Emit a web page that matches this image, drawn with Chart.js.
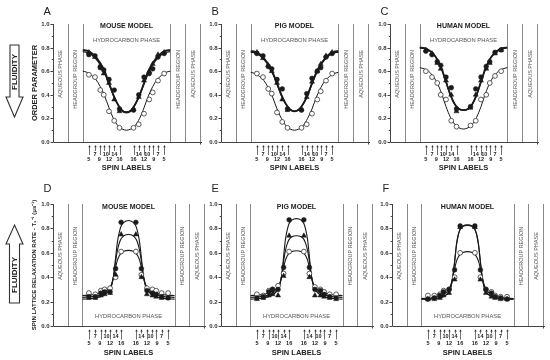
<!DOCTYPE html>
<html><head><meta charset="utf-8">
<script src="https://cdn.jsdelivr.net/npm/chart.js@4.4.1/dist/chart.umd.min.js"></script>
<style>
html,body{margin:0;padding:0;background:#fff;}
#wrap{position:relative;width:550px;height:360px;overflow:hidden;background:#fff;}
#wrap canvas{position:absolute;left:0;top:0;}
</style></head><body>
<div id="wrap">
<canvas id="cA" width="550" height="360"></canvas>
<canvas id="cB" width="550" height="360"></canvas>
<canvas id="cC" width="550" height="360"></canvas>
<canvas id="cD" width="550" height="360"></canvas>
<canvas id="cE" width="550" height="360"></canvas>
<canvas id="cF" width="550" height="360"></canvas>
</div>
<script>
// ---------------- DATA ----------------
const spinLabels = [5,7,9,10,12,14,16,16,14,12,10,9,7,5];
const spinPos    = [-43,-36,-30,-26,-20,-14,-8,8,14,20,26,30,36,43];
const yTicks = [0,0.2,0.4,0.6,0.8,1.0];
const yTickLabels = ['0.0','0.2','0.4','0.6','0.8','1.0'];
const models = ['MOUSE MODEL','PIG MODEL','HUMAN MODEL'];
const letters = ['A','B','C','D','E','F'];
const regionNames = ['AQUEOUS PHASE','HEADGROUP REGION','HYDROCARBON PHASE'];
const yTitleTop = 'ORDER PARAMETER';
const yTitleBottom = 'SPIN LATTICE RELAXATION RATE - T\u2081\u207B\u00B9 (\u03BCs\u207B\u00B9)';
const xTitle = 'SPIN LABELS';
const fluidityText = 'FLUIDITY';
// region boundaries: [axis start, aqueous|headgroup, headgroup|hydrocarbon, hydrocarbon|headgroup, headgroup|aqueous, end]
const topBounds = [-84,-67,-50,50,67,84];
const botBounds = [-82,-66,-50,50,66,82];

// fitted curves, order parameter (top row)
const topCurveX = [-50,-45,-40,-35,-30,-25,-20,-15,-10,-5,0,5,10,15,20,25,30,35,40,45,50];
const mouseOrderFilledFit = [0.78,0.775,0.755,0.72,0.67,0.60,0.50,0.40,0.32,0.265,0.25,0.265,0.32,0.40,0.50,0.60,0.67,0.72,0.755,0.775,0.78];
const mouseOrderTriFit    = [0.765,0.76,0.74,0.705,0.655,0.585,0.49,0.395,0.32,0.27,0.255,0.27,0.32,0.395,0.49,0.585,0.655,0.705,0.74,0.76,0.765];
const mouseOrderOpenFit   = [0.60,0.59,0.565,0.53,0.47,0.39,0.29,0.20,0.14,0.11,0.10,0.11,0.14,0.20,0.29,0.39,0.47,0.53,0.565,0.59,0.60];
const pigOrderFilledFit   = [0.77,0.765,0.745,0.71,0.66,0.59,0.50,0.40,0.325,0.275,0.26,0.275,0.325,0.40,0.50,0.59,0.66,0.71,0.745,0.765,0.77];
const pigOrderTriFit      = [0.76,0.755,0.735,0.70,0.65,0.58,0.49,0.395,0.32,0.275,0.262,0.275,0.32,0.395,0.49,0.58,0.65,0.70,0.735,0.755,0.76];
const pigOrderOpenFit     = [0.59,0.58,0.555,0.52,0.46,0.38,0.28,0.20,0.14,0.11,0.10,0.11,0.14,0.20,0.28,0.38,0.46,0.52,0.555,0.58,0.59];
const humanOrderFilledFit = [0.80,0.795,0.78,0.75,0.70,0.62,0.51,0.40,0.32,0.28,0.27,0.28,0.32,0.40,0.51,0.62,0.70,0.75,0.78,0.795,0.80];
const humanOrderTriFit    = [0.80,0.795,0.78,0.75,0.70,0.62,0.51,0.40,0.32,0.28,0.27,0.28,0.32,0.40,0.51,0.62,0.70,0.75,0.78,0.795,0.80];
const humanOrderOpenFit   = [0.63,0.62,0.60,0.56,0.50,0.41,0.30,0.21,0.15,0.12,0.11,0.12,0.15,0.21,0.30,0.41,0.50,0.56,0.60,0.62,0.63];

// measured points, order parameter (at spinPos)
const mouseOrderFilled = [0.74,0.73,0.63,0.61,0.53,0.44,0.28,0.27,0.40,0.55,0.58,0.62,0.72,0.75];
const mouseOrderTri    = [0.76,0.72,0.65,0.58,0.50,0.36,0.26,0.28,0.38,0.52,0.60,0.66,0.74,0.76];
const mouseOrderOpen   = [0.57,0.55,0.44,0.40,0.26,0.18,0.12,0.12,0.15,0.24,0.36,0.42,0.52,0.58];
const pigOrderFilled   = [0.75,0.73,0.64,0.62,0.53,0.45,0.28,0.27,0.41,0.54,0.60,0.63,0.72,0.75];
const pigOrderTri      = [0.76,0.71,0.65,0.60,0.50,0.36,0.27,0.28,0.38,0.51,0.60,0.66,0.73,0.76];
const pigOrderOpen     = [0.58,0.55,0.45,0.41,0.25,0.17,0.12,0.12,0.15,0.24,0.36,0.43,0.52,0.58];
const humanOrderFilled = [0.77,0.74,0.68,0.65,0.55,0.46,0.28,0.30,0.45,0.55,0.64,0.68,0.76,0.78];
const humanOrderTri    = [0.78,0.75,0.67,0.62,0.52,0.40,0.26,0.29,0.40,0.52,0.62,0.67,0.75,0.78];
const humanOrderOpen   = [0.60,0.55,0.50,0.40,0.36,0.18,0.13,0.14,0.18,0.36,0.40,0.50,0.56,0.60];

// fitted curves, relaxation rate (bottom row)
const botCurveX = [-50,-40,-30,-25,-20,-18,-16,-14,-12,-10,-8,-5,0,5,8,10,12,14,16,18,20,25,30,40,50];
const mouseRateFilledFit = [0.22,0.225,0.24,0.26,0.30,0.34,0.42,0.56,0.69,0.77,0.82,0.85,0.865,0.85,0.82,0.77,0.69,0.56,0.42,0.34,0.30,0.26,0.24,0.225,0.22];
const mouseRateTriFit    = [0.235,0.24,0.255,0.275,0.31,0.35,0.42,0.53,0.62,0.68,0.715,0.74,0.75,0.74,0.715,0.68,0.62,0.53,0.42,0.35,0.31,0.275,0.255,0.24,0.235];
const mouseRateOpenFit   = [0.25,0.255,0.27,0.29,0.32,0.35,0.41,0.48,0.54,0.575,0.597,0.613,0.62,0.613,0.597,0.575,0.54,0.48,0.41,0.35,0.32,0.29,0.27,0.255,0.25];
const pigRateFilledFit   = [0.22,0.225,0.24,0.26,0.30,0.34,0.42,0.57,0.71,0.79,0.84,0.868,0.88,0.868,0.84,0.79,0.71,0.57,0.42,0.34,0.30,0.26,0.24,0.225,0.22];
const pigRateTriFit      = [0.235,0.24,0.255,0.275,0.31,0.35,0.42,0.53,0.62,0.675,0.71,0.732,0.74,0.732,0.71,0.675,0.62,0.53,0.42,0.35,0.31,0.275,0.255,0.24,0.235];
const pigRateOpenFit     = [0.25,0.255,0.27,0.29,0.32,0.35,0.41,0.48,0.54,0.575,0.595,0.61,0.617,0.61,0.595,0.575,0.54,0.48,0.41,0.35,0.32,0.29,0.27,0.255,0.25];
const humanRateFilledFit = [0.22,0.222,0.23,0.245,0.28,0.32,0.40,0.53,0.67,0.75,0.795,0.82,0.83,0.82,0.795,0.75,0.67,0.53,0.40,0.32,0.28,0.245,0.23,0.222,0.22];
const humanRateTriFit    = [0.22,0.222,0.23,0.245,0.28,0.32,0.40,0.52,0.66,0.745,0.79,0.815,0.825,0.815,0.79,0.745,0.66,0.52,0.40,0.32,0.28,0.245,0.23,0.222,0.22];
const humanRateOpenFit   = [0.225,0.23,0.245,0.265,0.30,0.34,0.40,0.47,0.53,0.565,0.587,0.603,0.61,0.603,0.587,0.565,0.53,0.47,0.40,0.34,0.30,0.265,0.245,0.23,0.225];

// measured points, relaxation rate (at spinPos)
const mouseRateFilled = [0.24,0.24,0.27,0.28,0.28,0.47,0.85,0.85,0.47,0.29,0.27,0.26,0.24,0.23];
const mouseRateTri    = [0.23,0.23,0.25,0.26,0.27,0.42,0.75,0.75,0.40,0.26,0.25,0.24,0.23,0.23];
const mouseRateOpen   = [0.27,0.26,0.29,0.30,0.31,0.40,0.61,0.61,0.42,0.31,0.30,0.29,0.27,0.27];
const pigRateFilled   = [0.23,0.24,0.28,0.30,0.30,0.48,0.87,0.87,0.48,0.30,0.29,0.26,0.24,0.23];
const pigRateTri      = [0.22,0.23,0.25,0.26,0.25,0.41,0.74,0.74,0.40,0.25,0.25,0.24,0.23,0.22];
const pigRateOpen     = [0.26,0.25,0.29,0.30,0.33,0.43,0.61,0.61,0.43,0.32,0.30,0.28,0.26,0.26];
const humanRateFilled = [0.22,0.23,0.25,0.28,0.30,0.46,0.82,0.82,0.46,0.30,0.27,0.24,0.23,0.22];
const humanRateTri    = [0.22,0.22,0.23,0.25,0.27,0.38,0.81,0.81,0.38,0.27,0.24,0.23,0.22,0.22];
const humanRateOpen   = [0.25,0.25,0.26,0.29,0.30,0.40,0.60,0.60,0.40,0.30,0.28,0.25,0.24,0.24];

// ---------------- LAYOUT ----------------
const FONT = '"Liberation Sans", Arial, sans-serif';
const panels = [
  {letter:0, model:0, row:'top', box:[53,200,24,142], bounds:topBounds, cx:topCurveX, fits:[mouseOrderFilledFit,mouseOrderTriFit,mouseOrderOpenFit], pts:[mouseOrderFilled,mouseOrderTri,mouseOrderOpen], ytitle:yTitleTop, arrow:'down'},
  {letter:1, model:1, row:'top', box:[221,368,24,142], bounds:topBounds, cx:topCurveX, fits:[pigOrderFilledFit,pigOrderTriFit,pigOrderOpenFit], pts:[pigOrderFilled,pigOrderTri,pigOrderOpen]},
  {letter:2, model:2, row:'top', box:[390,537,24,142], bounds:topBounds, cx:topCurveX, fits:[humanOrderFilledFit,humanOrderTriFit,humanOrderOpenFit], pts:[humanOrderFilled,humanOrderTri,humanOrderOpen]},
  {letter:3, model:0, row:'bot', box:[53,204,204,326], bounds:botBounds, cx:botCurveX, fits:[mouseRateFilledFit,mouseRateTriFit,mouseRateOpenFit], pts:[mouseRateFilled,mouseRateTri,mouseRateOpen], ytitle:yTitleBottom, arrow:'up'},
  {letter:4, model:1, row:'bot', box:[221,372,204,326], bounds:botBounds, cx:botCurveX, fits:[pigRateFilledFit,pigRateTriFit,pigRateOpenFit], pts:[pigRateFilled,pigRateTri,pigRateOpen]},
  {letter:5, model:2, row:'bot', box:[392,543,204,326], bounds:botBounds, cx:botCurveX, fits:[humanRateFilledFit,humanRateTriFit,humanRateOpenFit], pts:[humanRateFilled,humanRateTri,humanRateOpen]},
];
const rowStyle = {
  top:{modelY:28, hydroY:42, regionMode:'top', regionY:50, arrowTop:3, shortEnd:9, longEnd:13, upY:14, lowY:18.5, xTitleY:28, letterY:-9, fitWidths:[1.8,1.3,1]},
  bot:{modelY:209, hydroY:318, regionMode:'center', regionY:256, arrowTop:3.3, shortEnd:7.5, longEnd:13.5, upY:12, lowY:18.5, xTitleY:29, letterY:-12, fitWidths:[1.1,1.1,1.1]}
};
const INK = '#1a1a1a', GREY = '#8a8a8a', LABEL = '#555';

function makeChart(canvasId, p){
  const rs = rowStyle[p.row];
  const [L,R,T,B] = p.box;
  const b = p.bounds;
  const toXY = (xs, ys) => xs.map((x,i)=>({x:x, y:ys[i]}));
  const markerStyles = [
    {pointStyle:'circle', pointRadius:2.4, backgroundColor:INK, borderColor:INK, borderWidth:0.5},
    {pointStyle:'triangle', pointRadius:2.9, backgroundColor:INK, borderColor:INK, borderWidth:0.5},
    {pointStyle:'circle', pointRadius:2.4, backgroundColor:'#fff', borderColor:'#333', borderWidth:0.8}
  ];
  const datasets = [];
  p.fits.forEach((f,i)=>{
    datasets.push({data:toXY(p.cx,f), showLine:true, borderColor:INK, borderWidth:rs.fitWidths[i], pointRadius:0, cubicInterpolationMode:'monotone', fill:false, order:5});
  });
  p.pts.forEach((v,i)=>{
    datasets.push(Object.assign({data:toXY(spinPos,v), showLine:false, order:1}, markerStyles[i]));
  });

  const decor = {
    id:'decor'+canvasId,
    beforeDatasetsDraw(chart){
      const ctx = chart.ctx, xs = chart.scales.x, ys = chart.scales.y;
      const X = v=>xs.getPixelForValue(v), Y = v=>ys.getPixelForValue(v);
      const y0 = Y(0), y1 = Y(1);
      ctx.save();
      // region lines
      ctx.strokeStyle = GREY; ctx.lineWidth = 1;
      [b[1],b[2],b[3],b[4],b[5]].forEach(v=>{
        const x = Math.round(X(v))+0.5;
        ctx.beginPath(); ctx.moveTo(x,y1); ctx.lineTo(x,y0); ctx.stroke();
      });
      // axes
      ctx.strokeStyle = '#444'; ctx.lineWidth = 1;
      const ax = Math.round(X(b[0]))+0.5;
      ctx.beginPath(); ctx.moveTo(ax,y1); ctx.lineTo(ax,y0); ctx.stroke();
      const yb = Math.round(y0)+0.5;
      ctx.beginPath(); ctx.moveTo(ax,yb); ctx.lineTo(X(b[5])+2,yb); ctx.stroke();
      ctx.beginPath(); ctx.moveTo(Math.round(X(b[5]))+0.5,yb); ctx.lineTo(Math.round(X(b[5]))+0.5,yb+2); ctx.stroke();
      // y ticks
      ctx.fillStyle = '#333'; ctx.font = 'bold 6px '+FONT; ctx.textAlign='right'; ctx.textBaseline='middle';
      yTicks.forEach((v,i)=>{
        const y = Math.round(Y(v))+0.5;
        ctx.beginPath(); ctx.moveTo(ax-3,y); ctx.lineTo(ax,y); ctx.stroke();
        ctx.fillText(yTickLabels[i], ax-4, y);
        if(i<yTicks.length-1){
          const ym = Math.round(Y((v+yTicks[i+1])/2))+0.5;
          ctx.beginPath(); ctx.moveTo(ax-1.8,ym); ctx.lineTo(ax,ym); ctx.stroke();
        }
      });
      // region labels (vertical)
      ctx.fillStyle = LABEL; ctx.font = '5.5px '+FONT;
      const regs = [[(b[0]+b[1])/2,0],[(b[1]+b[2])/2,1],[(b[3]+b[4])/2,1],[(b[4]+b[5])/2,0]];
      regs.forEach(([v,k])=>{
        ctx.save(); ctx.translate(X(v)+0.5, rs.regionY); ctx.rotate(-Math.PI/2);
        ctx.textBaseline='middle';
        ctx.textAlign = rs.regionMode==='top' ? 'right' : 'center';
        ctx.fillText(regionNames[k],0,0); ctx.restore();
      });
      // model title & hydrocarbon label
      ctx.textAlign='center'; ctx.textBaseline='alphabetic';
      ctx.fillStyle='#222'; ctx.font='bold 7px '+FONT;
      ctx.fillText(models[p.model], X(0), rs.modelY);
      ctx.fillStyle=LABEL; ctx.font='5.8px '+FONT;
      ctx.fillText(regionNames[2], X(0), rs.hydroY);
      // spin label arrows
      ctx.strokeStyle='#333'; ctx.fillStyle='#333'; ctx.lineWidth=0.7;
      spinPos.forEach((v,i)=>{
        const x = Math.round(X(v))+0.5;
        const upper = [7,10,14].includes(spinLabels[i]);
        const top = y0+rs.arrowTop, end = y0+(upper?rs.shortEnd:rs.longEnd);
        ctx.beginPath(); ctx.moveTo(x,top+1); ctx.lineTo(x,end); ctx.stroke();
        ctx.beginPath(); ctx.moveTo(x,top); ctx.lineTo(x-1.2,top+2.2); ctx.lineTo(x+1.2,top+2.2); ctx.closePath(); ctx.fill();
      });
      ctx.font='bold 5.5px '+FONT; ctx.fillStyle='#222'; ctx.textAlign='center';
      spinPos.forEach((v,i)=>{
        const upper = [7,10,14].includes(spinLabels[i]);
        let dx = 0;
        if(spinLabels[i]===10) dx = v<0 ? 2 : -2;
        if(spinLabels[i]===9) dx = v<0 ? -1 : 1;
        ctx.fillText(String(spinLabels[i]), X(v)+dx, y0+(upper?rs.upY:rs.lowY));
      });
      ctx.font='bold 7.5px '+FONT; ctx.fillStyle='#222';
      ctx.fillText(xTitle, X(0), y0+rs.xTitleY);
      // panel letter
      ctx.font='11px '+FONT; ctx.fillStyle='#222'; ctx.textAlign='left';
      ctx.fillText(letters[p.letter], ax-10, y1+rs.letterY);
      // y title
      if(p.ytitle){
        ctx.save(); ctx.translate(ax-19, (y0+y1)/2); ctx.rotate(-Math.PI/2);
        ctx.textAlign='center'; ctx.textBaseline='middle';
        ctx.font = (p.row==='top'?'bold 7.5px ':'bold 6px ')+FONT; ctx.fillStyle='#222';
        ctx.fillText(p.ytitle,0,0); ctx.restore();
      }
      // fluidity arrow
      if(p.arrow){
        ctx.strokeStyle='#333'; ctx.lineWidth=1.1; ctx.fillStyle='#fff';
        const cx = 14.5;
        ctx.beginPath();
        if(p.arrow==='down'){
          const sTop=45, sBot=97, tip=117;
          ctx.moveTo(cx-4.5,sTop); ctx.lineTo(cx+4.5,sTop); ctx.lineTo(cx+4.5,sBot); ctx.lineTo(cx+8.5,sBot);
          ctx.lineTo(cx,tip); ctx.lineTo(cx-8.5,sBot); ctx.lineTo(cx-4.5,sBot); ctx.closePath();
        } else {
          const tip=225, hBot=244, sBot=303;
          ctx.moveTo(cx,tip); ctx.lineTo(cx+8.5,hBot); ctx.lineTo(cx+5,hBot); ctx.lineTo(cx+5,sBot);
          ctx.lineTo(cx-5,sBot); ctx.lineTo(cx-5,hBot); ctx.lineTo(cx-8.5,hBot); ctx.closePath();
        }
        ctx.fill(); ctx.stroke();
        ctx.save();
        ctx.translate(cx+0.5, p.arrow==='down'?72:275); ctx.rotate(-Math.PI/2);
        ctx.font='bold 8px '+FONT; ctx.fillStyle='#222'; ctx.textAlign='center'; ctx.textBaseline='middle';
        ctx.fillText(fluidityText,0,0); ctx.restore();
      }
      ctx.restore();
    }
  };

  return new Chart(document.getElementById(canvasId), {
    type:'line',
    data:{datasets},
    options:{
      responsive:false, animation:false, events:[],
      layout:{padding:{left:L, right:550-R, top:T, bottom:360-B}},
      plugins:{legend:{display:false}, tooltip:{enabled:false}},
      scales:{
        x:{type:'linear', min:b[0], max:b[5], display:false},
        y:{type:'linear', min:0, max:1, display:false}
      },
      clip:false
    },
    plugins:[decor]
  });
}
['cA','cB','cC','cD','cE','cF'].forEach((id,i)=>makeChart(id, panels[i]));
</script>
</body></html>
